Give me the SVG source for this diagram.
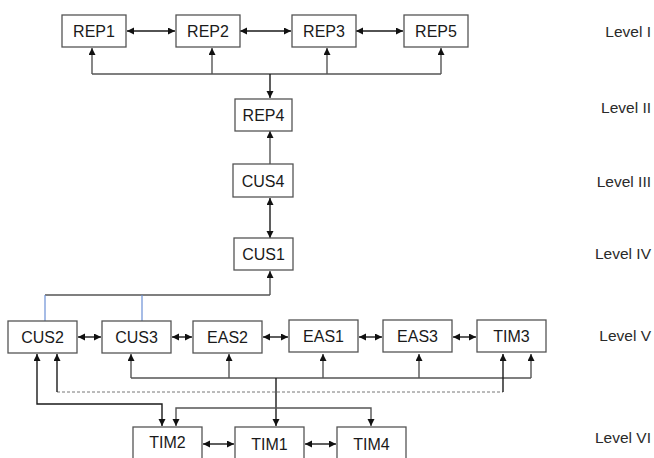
<svg xmlns="http://www.w3.org/2000/svg" width="654" height="458" viewBox="0 0 654 458">
<style>
.box{fill:#fff;stroke:#555;stroke-width:1.3}
.lbl{font-family:"Liberation Sans",Arial,sans-serif;font-size:16px;fill:#1a1a1a;text-anchor:middle;dominant-baseline:central}
.lvl{font-family:"Liberation Sans",Arial,sans-serif;font-size:15.5px;fill:#2a2a2a;text-anchor:end;dominant-baseline:central}
.ln{fill:none;stroke:#1a1a1a;stroke-width:1.4}
.gr{fill:none;stroke:#555;stroke-width:1.4}
.bl{fill:none;stroke:#6b8fd6;stroke-width:1.2}
.dash{fill:none;stroke:#777;stroke-width:1;stroke-dasharray:3,2}
</style>
<defs>
<marker id="ah" markerUnits="userSpaceOnUse" markerWidth="8" markerHeight="8" refX="7" refY="3.5" orient="auto-start-reverse">
<path d="M0,0 L7,3.5 L0,7 z" fill="#111"/>
</marker>
</defs>
<g id="connectors">
<line class="ln" x1="127" y1="31" x2="175" y2="31" marker-start="url(#ah)" marker-end="url(#ah)"/>
<line class="ln" x1="240" y1="31" x2="291" y2="31" marker-start="url(#ah)" marker-end="url(#ah)"/>
<line class="ln" x1="356" y1="31" x2="403" y2="31" marker-start="url(#ah)" marker-end="url(#ah)"/>
<polyline class="gr" points="92,74 441,74"/>
<line class="gr" x1="92" y1="74" x2="92" y2="48" marker-end="url(#ah)"/>
<line class="gr" x1="212" y1="74" x2="212" y2="48" marker-end="url(#ah)"/>
<line class="gr" x1="327" y1="74" x2="327" y2="48" marker-end="url(#ah)"/>
<line class="gr" x1="441" y1="74" x2="441" y2="48" marker-end="url(#ah)"/>
<line class="ln" x1="270" y1="74" x2="270" y2="98" marker-end="url(#ah)"/>
<line class="gr" x1="270" y1="164" x2="270" y2="131" marker-end="url(#ah)"/>
<line class="ln" x1="270" y1="198" x2="270" y2="238" marker-start="url(#ah)" marker-end="url(#ah)"/>
<polyline class="gr" points="45,295 270,295"/>
<line class="gr" x1="270" y1="295" x2="270" y2="271" marker-end="url(#ah)"/>
<line class="bl" x1="45" y1="295" x2="45" y2="321"/>
<line class="bl" x1="142" y1="295" x2="142" y2="321"/>
<line class="ln" x1="78" y1="337" x2="101" y2="337" marker-start="url(#ah)" marker-end="url(#ah)"/>
<line class="ln" x1="172" y1="337" x2="192" y2="337" marker-start="url(#ah)" marker-end="url(#ah)"/>
<line class="ln" x1="263" y1="337" x2="288" y2="337" marker-start="url(#ah)" marker-end="url(#ah)"/>
<line class="ln" x1="359" y1="337" x2="382" y2="337" marker-start="url(#ah)" marker-end="url(#ah)"/>
<line class="ln" x1="453" y1="337" x2="476" y2="337" marker-start="url(#ah)" marker-end="url(#ah)"/>
<polyline class="gr" points="131,378 531,378"/>
<line class="gr" x1="131" y1="378" x2="131" y2="354" marker-end="url(#ah)"/>
<line class="gr" x1="229" y1="378" x2="229" y2="354" marker-end="url(#ah)"/>
<line class="gr" x1="323" y1="378" x2="323" y2="354" marker-end="url(#ah)"/>
<line class="gr" x1="419" y1="378" x2="419" y2="354" marker-end="url(#ah)"/>
<line class="gr" x1="531" y1="378" x2="531" y2="354" marker-end="url(#ah)"/>
<line class="ln" x1="276" y1="378" x2="276" y2="426" marker-end="url(#ah)"/>
<line class="dash" x1="57" y1="392" x2="503" y2="392"/>
<line class="ln" x1="57" y1="392" x2="57" y2="354" marker-end="url(#ah)"/>
<line class="ln" x1="503" y1="392" x2="503" y2="354" marker-end="url(#ah)"/>
<polyline class="ln" points="37,354 37,404 162,404 162,426" marker-start="url(#ah)" marker-end="url(#ah)"/>
<polyline class="gr" points="176,426 176,408 371,408 371,426" marker-start="url(#ah)" marker-end="url(#ah)"/>
<line class="ln" x1="203" y1="444" x2="234" y2="444" marker-start="url(#ah)" marker-end="url(#ah)"/>
<line class="ln" x1="305" y1="444" x2="336" y2="444" marker-start="url(#ah)" marker-end="url(#ah)"/>
</g>
<g id="REP1"><rect class="box" x="62" y="15" width="64" height="32"/><text class="lbl" x="94" y="31">REP1</text></g>
<g id="REP2"><rect class="box" x="176" y="15" width="64" height="32"/><text class="lbl" x="208" y="31">REP2</text></g>
<g id="REP3"><rect class="box" x="292" y="15" width="64" height="32"/><text class="lbl" x="324" y="31">REP3</text></g>
<g id="REP5"><rect class="box" x="404" y="15" width="64" height="32"/><text class="lbl" x="436" y="31">REP5</text></g>
<g id="REP4"><rect class="box" x="235" y="99" width="57" height="32"/><text class="lbl" x="263.5" y="115">REP4</text></g>
<g id="CUS4"><rect class="box" x="233" y="164" width="60" height="33"/><text class="lbl" x="263" y="181">CUS4</text></g>
<g id="CUS1"><rect class="box" x="234" y="238" width="59" height="32"/><text class="lbl" x="263.5" y="254">CUS1</text></g>
<g id="CUS2"><rect class="box" x="8" y="321" width="69" height="32"/><text class="lbl" x="42.5" y="337">CUS2</text></g>
<g id="CUS3"><rect class="box" x="102" y="321" width="69" height="32"/><text class="lbl" x="136.5" y="337">CUS3</text></g>
<g id="EAS2"><rect class="box" x="193" y="321" width="69" height="32"/><text class="lbl" x="227.5" y="337">EAS2</text></g>
<g id="EAS1"><rect class="box" x="289" y="320" width="69" height="32"/><text class="lbl" x="323.5" y="336">EAS1</text></g>
<g id="EAS3"><rect class="box" x="383" y="320" width="69" height="32"/><text class="lbl" x="417.5" y="336">EAS3</text></g>
<g id="TIM3"><rect class="box" x="477" y="320" width="69" height="32"/><text class="lbl" x="511.5" y="336">TIM3</text></g>
<g id="TIM2"><rect class="box" x="133" y="427" width="69" height="40"/><text class="lbl" x="167.5" y="442">TIM2</text></g>
<g id="TIM1"><rect class="box" x="235" y="427" width="69" height="40"/><text class="lbl" x="269.5" y="444">TIM1</text></g>
<g id="TIM4"><rect class="box" x="337" y="427" width="69" height="40"/><text class="lbl" x="371.5" y="444">TIM4</text></g>
<g id="levels">
<text class="lvl" x="651" y="31">Level I</text>
<text class="lvl" x="651" y="107">Level II</text>
<text class="lvl" x="651" y="181">Level III</text>
<text class="lvl" x="651" y="253">Level IV</text>
<text class="lvl" x="651" y="335">Level V</text>
<text class="lvl" x="651" y="437">Level VI</text>
</g>
</svg>
